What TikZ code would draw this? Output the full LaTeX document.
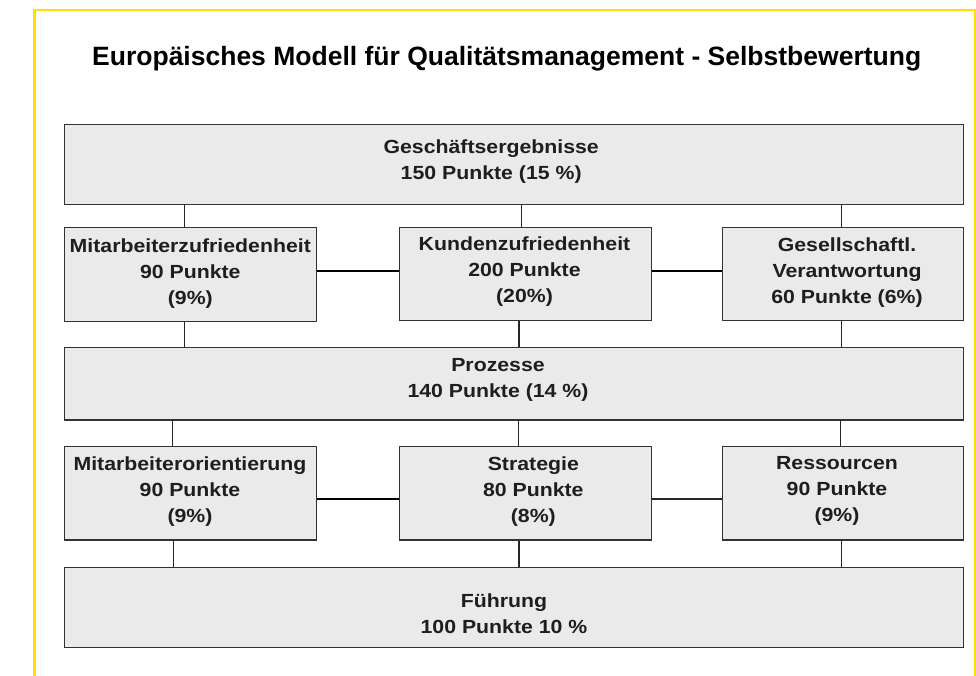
\documentclass[tikz,border=0pt]{standalone}
\usepackage{fontspec}
\setmainfont{Liberation Sans}
\newfontfamily\boxfont[FakeStretch=1.12]{Liberation Sans}
\definecolor{frameyellow}{RGB}{255,222,0}
\definecolor{boxfill}{RGB}{234,234,234}
\definecolor{boxline}{RGB}{50,50,50}
\definecolor{txt}{RGB}{30,30,30}
\tikzset{
  box/.style={draw=boxline, line width=1.3pt, fill=boxfill, rectangle, inner sep=0pt, anchor=north west},
  lbl/.style={font=\boxfont\bfseries\fontsize{19}{26}\selectfont, text=txt, align=center, inner sep=0pt, anchor=north},
  conn/.style={draw=black!85, line width=1.2pt},
  hconn/.style={draw=black, line width=1.7pt},
  titlestyle/.style={font=\bfseries\fontsize{26.5}{30}\selectfont, text=black, inner sep=0pt, anchor=base}
}
\begin{document}
\begin{tikzpicture}[x=1pt,y=-1pt]
\useasboundingbox (0,0) rectangle (976,675);
% yellow frame
\draw[frameyellow, line width=2.5pt] (34.3,700) -- (34.3,10) -- (975,10) -- (975,700);
% title
\node[titlestyle] (title) at (506.7,65) {Europäisches Modell für Qualitätsmanagement - Selbstbewertung};
% boxes
\node[box, minimum width=899pt, minimum height=80.5pt] (top) at (64,123.5) {};
\node[box, minimum width=252pt, minimum height=94pt] (mz) at (64,226.5) {};
\node[box, minimum width=251.7pt, minimum height=93.5pt] (kz) at (399,226.5) {};
\node[box, minimum width=241.3pt, minimum height=93.5pt] (gv) at (721.7,226.5) {};
\node[box, minimum width=899pt, minimum height=72.3pt] (pr) at (64,347) {};
\node[box, minimum width=252pt, minimum height=93.3pt] (mo) at (64,446) {};
\node[box, minimum width=251.7pt, minimum height=93.3pt] (st) at (399,446) {};
\node[box, minimum width=241.3pt, minimum height=93.3pt] (rs) at (721.7,446) {};
\node[box, minimum width=899pt, minimum height=80.3pt] (fu) at (64,566.5) {};
% labels
\node[lbl] (ltop) at (491.2,139.5) {Geschäftsergebnisse\\150 Punkte (15 \%)};
\node[lbl] (lmz) at (190.3,238.3) {Mitarbeiterzufriedenheit\\90 Punkte\\(9\%)};
\node[lbl] (lkz) at (524.5,237) {Kundenzufriedenheit\\200 Punkte\\(20\%)};
\node[lbl] (lgv) at (847,238) {Gesellschaftl.\\Verantwortung\\60 Punkte (6\%)};
\node[lbl] (lpr) at (498,358.3) {Prozesse\\140 Punkte (14 \%)};
\node[lbl] (lmo) at (190,456.7) {Mitarbeiterorientierung\\90 Punkte\\(9\%)};
\node[lbl] (lst) at (533.3,456.7) {Strategie\\80 Punkte\\(8\%)};
\node[lbl] (lrs) at (837,456.7) {Ressourcen\\90 Punkte\\(9\%)};
\node[lbl] (lfu) at (504,594) {Führung\\100 Punkte 10 \%};
% connector positions
\coordinate (a1) at (184.5,0);
\coordinate (a2) at (521.7,0);
\coordinate (a3) at (841.3,0);
\coordinate (b1) at (184.7,0);
\coordinate (b2) at (519,0);
\coordinate (b3) at (841.3,0);
\coordinate (c1) at (172.8,0);
\coordinate (c2) at (518.7,0);
\coordinate (c3) at (840.8,0);
\coordinate (d1) at (173.3,0);
\coordinate (d2) at (519,0);
\coordinate (d3) at (841.3,0);
\coordinate (h1) at (0,271);
\coordinate (h2) at (0,499);
% vertical connectors
\draw[conn] (top.south -| a1) -- (mz.north -| a1);
\draw[conn] (top.south -| a2) -- (kz.north -| a2);
\draw[conn] (top.south -| a3) -- (gv.north -| a3);
\draw[conn] (mz.south -| b1) -- (pr.north -| b1);
\draw[conn] (kz.south -| b2) -- (pr.north -| b2);
\draw[conn] (gv.south -| b3) -- (pr.north -| b3);
\draw[conn] (pr.south -| c1) -- (mo.north -| c1);
\draw[conn] (pr.south -| c2) -- (st.north -| c2);
\draw[conn] (pr.south -| c3) -- (rs.north -| c3);
\draw[conn] (mo.south -| d1) -- (fu.north -| d1);
\draw[conn] (st.south -| d2) -- (fu.north -| d2);
\draw[conn] (rs.south -| d3) -- (fu.north -| d3);
% horizontal connectors
\draw[hconn] (mz.east |- h1) -- (kz.west |- h1);
\draw[hconn] (kz.east |- h1) -- (gv.west |- h1);
\draw[hconn] (mo.east |- h2) -- (st.west |- h2);
\draw[conn] (st.east |- h2) -- (rs.west |- h2);
\end{tikzpicture}
\end{document}
